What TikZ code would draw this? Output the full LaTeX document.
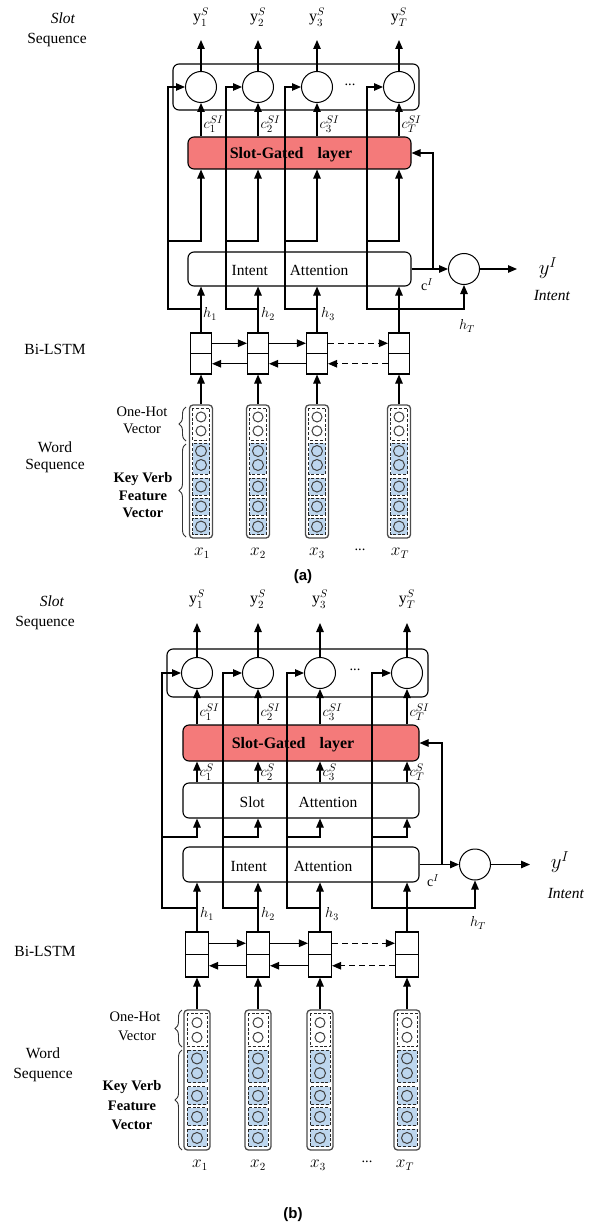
\documentclass[tikz,border=0pt]{standalone}
\usepackage{fontspec}
\setmainfont{Liberation Serif}
\newfontfamily\arialfont{Liberation Sans}
\usetikzlibrary{arrows.meta,calc,decorations.pathreplacing}
\definecolor{sgred}{RGB}{244,122,122}
\definecolor{vblue}{RGB}{189,214,238}
\tikzset{
  arr/.style={line width=1.1pt,-{Triangle[length=9pt,width=7.5pt]}},
  darr/.style={arr,dash pattern=on 6pt off 4pt},
  neuron/.style={circle,draw,line width=1pt,minimum size=31pt,inner sep=0pt},
  layerbox/.style={draw,rounded corners=6pt,line width=1.1pt,inner sep=0pt},
  lstmcell/.style={draw,line width=1.1pt,inner sep=0pt},
  vecbox/.style={draw=black!70,rounded corners=3.5pt,line width=1.3pt,inner sep=0pt},
  grp/.style={draw=black!85,dash pattern=on 3pt off 1.8pt,line width=0.9pt},
  vu/.style={draw=black!75,line width=1pt},
  txt/.style={inner sep=0pt,font=\fontsize{15.5}{18}\selectfont},
  smtxt/.style={inner sep=0pt,font=\fontsize{14.5}{17}\selectfont},
  bsmtxt/.style={inner sep=0pt,font=\fontsize{14.5}{17}\selectfont\bfseries},
  sgtxt/.style={inner sep=0pt,font=\fontsize{16}{18}\selectfont\bfseries},
  mth/.style={inner sep=0pt,font=\fontsize{16}{18}\selectfont},
  bigmth/.style={inner sep=0pt,font=\fontsize{20}{22}\selectfont},
  smth/.style={inner sep=0pt,font=\fontsize{14}{16}\selectfont},
  cmth/.style={inner sep=0pt,anchor=west,font=\fontsize{15.5}{17}\selectfont},
  brc/.style={decorate,decoration={brace,amplitude=7pt},line width=0.9pt,draw=black!80},
  captxt/.style={inner sep=0pt,font=\fontsize{15}{17}\arialfont\bfseries},
}
\newcommand\wordvec[5]{%
  \node[vecbox,minimum width=#5pt,minimum height=#4pt] (#1) at (#2,{#3+#4/2}) {};
  \pgfmathsetmacro\wvl{#2-#5/2+3}%
  \pgfmathsetmacro\wvr{#2+#5/2-3}%
  \draw[grp] (\wvl,{#3+0.0226*#4}) rectangle (\wvr,{#3+0.263*#4});
  \draw[grp,fill=vblue] (\wvl,{#3+0.286*#4}) rectangle (\wvr,{#3+0.519*#4});
  \draw[grp,fill=vblue] (\wvl,{#3+0.549*#4}) rectangle (\wvr,{#3+0.677*#4});
  \draw[grp,fill=vblue] (\wvl,{#3+0.699*#4}) rectangle (\wvr,{#3+0.827*#4});
  \draw[grp,fill=vblue] (\wvl,{#3+0.850*#4}) rectangle (\wvr,{#3+0.977*#4});
  \foreach \f in {0.09,0.195} \draw[vu,fill=white] (#2,{#3+\f*#4}) circle (5pt);
  \foreach \f in {0.346,0.451,0.613,0.763,0.914} \draw[vu,fill=vblue] (#2,{#3+\f*#4}) circle (5.5pt);
}
\begin{document}
\begin{tikzpicture}[x=1pt,y=-1pt]
\useasboundingbox (0,0) rectangle (606,1225);
% ================= panel (a) =================
\node[txt] (a-l1) at (63,18) {\textit{Slot}};
\node[txt] (a-l2) at (57,40) {Sequence};
\node[txt] (a-l3) at (55,349) {Bi-LSTM};
\node[txt] (a-l4) at (55,447) {Word};
\node[txt] (a-l5) at (55,466) {Sequence};
\node[smtxt] (a-oh1) at (142,412) {One-Hot};
\node[smtxt] (a-oh2) at (142,429) {Vector};
\node[bsmtxt] (a-kv1) at (143,479) {Key Verb};
\node[bsmtxt] (a-kv2) at (143,496) {Feature};
\node[bsmtxt] (a-kv3) at (143,513) {Vector};
\draw[brc] (186,441) -- (186,407);
\draw[brc] (186,537) -- (186,444);

\node[layerbox,minimum width=246pt,minimum height=46pt] (a-cont) at (296,87) {};
\node[layerbox,fill=sgred,minimum width=223pt,minimum height=32pt] (a-sg) at (299.5,153) {};
\node[sgtxt] (a-sgt) at (291,155) {Slot-Gated\hspace{14pt}layer};
\node[layerbox,minimum width=223pt,minimum height=34pt] (a-ia) at (299.5,269) {};
\node[txt] (a-iat) at (290,270) {Intent\hspace{22pt}Attention};
\node[smtxt] (a-dots) at (350,85) {...};

\foreach \n/\x/\l in {1/201/168,2/258/226,3/317/285,T/399/367}{
  \node[neuron] (a-o\n) at (\x,87) {};
  \coordinate (a-yt\n) at (\x,40);
  \node[mth] (a-ys\n) at (\x,17) {y$^{S}_{\n}$};
  \node[cmth] (a-c\n) at (\x+2.5,124) {$c^{SI}_{\n}$};
  \node[lstmcell,minimum width=21pt,minimum height=20.5pt] (a-lu\n) at (\x,343.25) {};
  \node[lstmcell,minimum width=21pt,minimum height=20.5pt] (a-ld\n) at (\x,363.75) {};
  \wordvec{a-v\n}{\x}{405}{133}{23}
  \coordinate (a-hj\n) at (\x,309);
  \coordinate (a-e\n) at (\l,241);
  \draw[arr] (a-o\n.north) -- (a-yt\n);
  \draw[arr] (a-sg.north -| a-o\n) -- (a-o\n.south);
  \draw[arr] (a-e\n) -| (a-sg.south -| a-o\n);
  \draw[arr] (a-hj\n) -| (a-e\n) |- (a-o\n.west);
  \draw[arr] (a-lu\n.north) -- (a-ia.south -| a-lu\n.north);
  \draw[arr] (a-v\n.north) -- (a-ld\n.south);
}
\foreach \n/\x in {1/210,2/268,3/328}{
  \node[smth] (a-h\n) at (\x,314) {$h_{\n}$};
}
\foreach \n/\x in {1/202,2/258,3/317,T/400}{
  \node[mth] (a-x\n) at (\x,553) {$x_{\n}$};
}
\node[smtxt] (a-xd) at (360,550) {...};
\draw[arr] (a-lu1.east) -- (a-lu2.west);
\draw[arr] (a-lu2.east) -- (a-lu3.west);
\draw[darr] (a-lu3.east) -- (a-luT.west);
\draw[arr] (a-ld2.west) -- (a-ld1.east);
\draw[arr] (a-ld3.west) -- (a-ld2.east);
\draw[darr] (a-ldT.west) -- (a-ld3.east);

\node[neuron] (a-int) at (464,269) {};
\coordinate (a-yI) at (517,269);
\coordinate (a-cj) at (433,269);
\draw[arr] (a-ia.east) -- (a-int.west);
\draw[arr] (a-int.east) -- (a-yI);
\draw[arr] (a-cj) |- (a-sg.east);
\draw[arr] (a-hjT) -| (a-int.south);
\node[smth] (a-cI) at (427,285) {c$^{I}$};
\node[smth] (a-hT) at (467,326) {$h_{T}$};
\node[bigmth] (a-yIl) at (548,268) {$y^{I}$};
\node[txt] (a-intl) at (552,295) {\textit{Intent}};
\node[captxt] (a-cap) at (303,577) {(a)};

% ================= panel (b) =================
\node[txt] (b-l1) at (52,601) {\textit{Slot}};
\node[txt] (b-l2) at (45,623) {Sequence};
\node[txt] (b-l3) at (45,951) {Bi-LSTM};
\node[txt] (b-l4) at (43,1053) {Word};
\node[txt] (b-l5) at (43,1075) {Sequence};
\node[smtxt] (b-oh1) at (135,1017) {One-Hot};
\node[smtxt] (b-oh2) at (137,1036) {Vector};
\node[bsmtxt] (b-kv1) at (132,1087) {Key Verb};
\node[bsmtxt] (b-kv2) at (132,1106) {Feature};
\node[bsmtxt] (b-kv3) at (132,1125) {Vector};
\draw[brc] (182,1047) -- (182,1010);
\draw[brc] (182,1150) -- (182,1050);

\node[layerbox,minimum width=261pt,minimum height=48pt] (b-cont) at (297.5,673) {};
\node[layerbox,fill=sgred,minimum width=236pt,minimum height=36pt] (b-sg) at (301,743) {};
\node[sgtxt] (b-sgt) at (293,745) {Slot-Gated\hspace{14pt}layer};
\node[layerbox,minimum width=236pt,minimum height=35pt] (b-sa) at (301,800.5) {};
\node[txt] (b-sat) at (298.5,802) {Slot\hspace{34pt}Attention};
\node[layerbox,minimum width=236pt,minimum height=35pt] (b-ia) at (301,864.5) {};
\node[txt] (b-iat) at (291.5,866) {Intent\hspace{27pt}Attention};
\node[smtxt] (b-dots) at (355,670) {...};

\foreach \n/\x/\l in {1/197/162,2/258/223,3/320/287,T/407/372}{
  \node[neuron] (b-o\n) at (\x,673) {};
  \coordinate (b-yt\n) at (\x,623);
  \node[mth] (b-ys\n) at (\x,599) {y$^{S}_{\n}$};
  \node[cmth] (b-c\n) at (\x+2.5,712) {$c^{SI}_{\n}$};
  \node[cmth] (b-s\n) at (\x+2.5,772) {$c^{S}_{\n}$};
  \node[lstmcell,minimum width=23pt,minimum height=22.5pt] (b-lu\n) at (\x,943.25) {};
  \node[lstmcell,minimum width=23pt,minimum height=22.5pt] (b-ld\n) at (\x,965.75) {};
  \wordvec{b-v\n}{\x}{1010}{140}{26}
  \coordinate (b-hj\n) at (\x,908);
  \coordinate (b-e\n) at (\l,837);
  \draw[arr] (b-o\n.north) -- (b-yt\n);
  \draw[arr] (b-sg.north -| b-o\n) -- (b-o\n.south);
  \draw[arr] (b-sa.north -| b-o\n) -- (b-sg.south -| b-o\n);
  \draw[arr] (b-e\n) -| (b-sa.south -| b-o\n);
  \draw[arr] (b-hj\n) -| (b-e\n) |- (b-o\n.west);
  \draw[arr] (b-lu\n.north) -- (b-ia.south -| b-lu\n.north);
  \draw[arr] (b-v\n.north) -- (b-ld\n.south);
}
\foreach \n/\x in {1/207,2/268,3/332}{
  \node[smth] (b-h\n) at (\x,914) {$h_{\n}$};
}
\foreach \n/\x in {1/200,2/258,3/318,T/405}{
  \node[mth] (b-x\n) at (\x,1165) {$x_{\n}$};
}
\node[smtxt] (b-xd) at (367,1162) {...};
\draw[arr] (b-lu1.east) -- (b-lu2.west);
\draw[arr] (b-lu2.east) -- (b-lu3.west);
\draw[darr] (b-lu3.east) -- (b-luT.west);
\draw[arr] (b-ld2.west) -- (b-ld1.east);
\draw[arr] (b-ld3.west) -- (b-ld2.east);
\draw[darr] (b-ldT.west) -- (b-ld3.east);

\node[neuron] (b-int) at (475,864.5) {};
\coordinate (b-yI) at (530,864.5);
\coordinate (b-cj) at (442,864.5);
\draw[arr] (b-ia.east) -- (b-int.west);
\draw[arr] (b-int.east) -- (b-yI);
\draw[arr] (b-cj) |- (b-sg.east);
\draw[arr] (b-hjT) -| (b-int.south);
\node[smth] (b-cI) at (433,881) {c$^{I}$};
\node[smth] (b-hT) at (478,923) {$h_{T}$};
\node[bigmth] (b-yIl) at (560,862) {$y^{I}$};
\node[txt] (b-intl) at (566,893) {\textit{Intent}};
\node[captxt] (b-cap) at (293,1215) {(b)};
\end{tikzpicture}
\end{document}
